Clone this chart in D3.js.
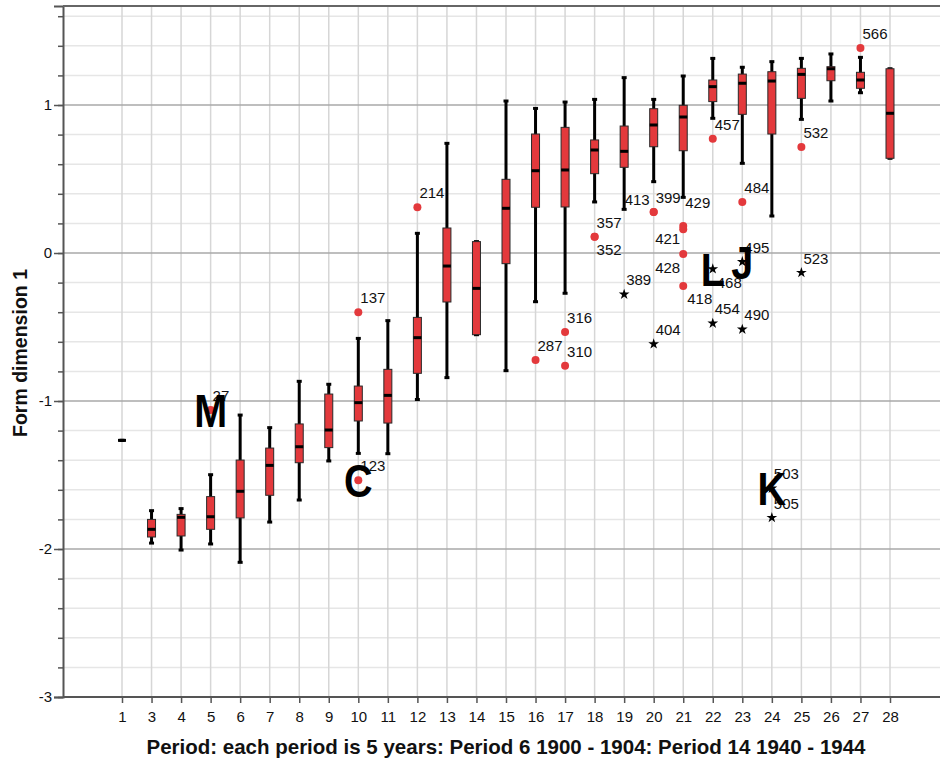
<!DOCTYPE html>
<html>
<head>
<meta charset="utf-8">
<script src="https://cdn.jsdelivr.net/npm/d3@7"></script>
<style>
  body { margin: 0; background: #fff; }
  svg { display: block; font-family: "Liberation Sans", Arial, sans-serif; }
</style>
</head>
<body>
<svg id="chart"></svg>
<script>
// box plot values per period
var periods    = [1, 3, 4, 5, 6, 7, 8, 9, 10, 11, 12, 13, 14, 15, 16, 17, 18, 19, 20, 21, 22, 23, 24, 25, 26, 27, 28];
var whiskerHi  = [-1.266, -1.741, -1.727, -1.498, -1.095, -1.18, -0.867, -0.887, -0.577, -0.457, 0.133, 0.741, 0.077, 1.027, 0.977, 1.02, 1.038, 1.185, 1.038, 1.196, 1.315, 1.255, 1.293, 1.315, 1.345, 1.322, 1.245];
var q3         = [-1.266, -1.80, -1.766, -1.646, -1.399, -1.318, -1.155, -0.953, -0.899, -0.786, -0.435, 0.169, 0.077, 0.498, 0.804, 0.849, 0.764, 0.858, 0.975, 0.998, 1.169, 1.209, 1.225, 1.248, 1.259, 1.221, 1.245];
var medians    = [-1.266, -1.867, -1.786, -1.782, -1.61, -1.435, -1.309, -1.196, -1.011, -0.962, -0.572, -0.088, -0.239, 0.302, 0.556, 0.561, 0.696, 0.687, 0.865, 0.919, 1.124, 1.147, 1.162, 1.207, 1.245, 1.169, 0.944];
var q1         = [-1.266, -1.919, -1.912, -1.867, -1.79, -1.637, -1.417, -1.315, -1.135, -1.149, -0.813, -0.331, -0.552, -0.072, 0.309, 0.311, 0.536, 0.579, 0.718, 0.691, 1.023, 0.937, 0.804, 1.045, 1.164, 1.113, 0.64];
var whiskerLo  = [-1.266, -1.96, -2.007, -1.966, -2.09, -1.818, -1.669, -1.405, -1.354, -1.356, -0.99, -0.842, -0.552, -0.795, -0.329, -0.272, 0.345, 0.295, 0.482, 0.376, 0.91, 0.606, 0.25, 0.903, 1.027, 1.083, 0.64];

// outliers (o) and extremes (*)
var outPeriod = [5, 10, 10, 12, 16, 17, 17, 18, 18, 19, 20, 20, 20, 21, 21, 21, 21, 22, 22, 22, 23, 23, 23, 24, 24, 25, 25, 27];
var outValue  = [-1.06, -0.401, -1.536, 0.309, -0.723, -0.534, -0.761, 0.11, 0.11, -0.279, 0.277, 0.277, -0.615, 0.182, 0.16, -0.007, -0.223, 0.772, -0.108, -0.475, 0.345, -0.059, -0.516, -1.59, -1.788, 0.716, -0.133, 1.385];
var outId     = [27, 137, 123, 214, 287, 316, 310, 357, 352, 389, 399, 413, 404, 429, 421, 428, 418, 457, 468, 454, 484, 495, 490, 503, 505, 532, 523, 566];
var outKind   = ['o', 'o', 'o', 'o', 'o', 'o', 'o', 'o', 'o', '*', 'o', 'o', '*', 'o', 'o', 'o', 'o', 'o', '*', '*', 'o', '*', '*', '*', '*', 'o', '*', 'o'];

// hand-drawn letters on top of the chart, tied to a case
var markLetter = ['M', 'C', 'L', 'J', 'K'];
var markCase   = [27, 123, 468, 495, 503];

var yTicks = [-3, -2, -1, 0, 1];
var xTitle = 'Period: each period is 5 years: Period 6 1900 - 1904: Period 14 1940 - 1944';
var yTitle = 'Form dimension 1';

var W = 940, H = 763;
var plotLeft = 63, plotTop = 6, plotBottom = 697, plotRight = 949;
var RED = '#e3393c';

var svg = d3.select('#chart').attr('width', W).attr('height', H);

var x = d3.scalePoint().domain(periods).range([122, 890]);
var y = d3.scaleLinear().domain([-3, 1.669]).range([plotBottom, plotTop]);

// grid
var minor = d3.range(-3, 1.7, 0.2).map(function(v) { return Math.round(v * 10) / 10; });
svg.append('g').selectAll('line').data(minor.filter(function(v) { return yTicks.indexOf(v) < 0; }))
  .enter().append('line')
  .attr('x1', plotLeft).attr('x2', plotRight).attr('y1', y).attr('y2', y)
  .attr('stroke', '#e6e6e6').attr('stroke-width', 1.5);
svg.append('g').selectAll('line').data(periods)
  .enter().append('line')
  .attr('x1', x).attr('x2', x).attr('y1', plotTop).attr('y2', plotBottom)
  .attr('stroke', '#d6d6d6').attr('stroke-width', 1.5);
svg.append('g').selectAll('line').data(yTicks)
  .enter().append('line')
  .attr('x1', plotLeft).attr('x2', plotRight).attr('y1', y).attr('y2', y)
  .attr('stroke', '#a9a9a9').attr('stroke-width', 1.5);

// axes
svg.append('g').attr('transform', 'translate(' + plotLeft + ',0)')
  .call(d3.axisLeft(y).tickValues(minor).tickSize(5).tickFormat(''))
  .select('.domain').remove();
svg.append('g').attr('transform', 'translate(' + plotLeft + ',0)')
  .call(d3.axisLeft(y).tickValues(yTicks).tickSize(9).tickPadding(2).tickFormat(function(d) { return String(d); }));
var xAxis = svg.append('g').attr('transform', 'translate(0,' + plotBottom + ')')
  .call(d3.axisBottom(x).tickSize(6).tickPadding(8).tickSizeOuter(0));
svg.selectAll('.domain').attr('stroke', '#555').attr('stroke-width', 2);
svg.selectAll('.tick line').attr('stroke', '#555').attr('stroke-width', 1.5);
svg.selectAll('.tick text').attr('fill', '#111').style('font-size', '15px')
  .style('font-family', '"Liberation Sans", Arial, sans-serif');
xAxis.select('.domain').attr('d', 'M' + plotLeft + ',0H' + plotRight);
svg.append('line').attr('x1', plotLeft).attr('x2', plotRight).attr('y1', plotTop).attr('y2', plotTop)
  .attr('stroke', '#666').attr('stroke-width', 2);

// boxes
var boxes = svg.append('g').selectAll('g').data(periods).enter().append('g')
  .attr('transform', function(d) { return 'translate(' + x(d) + ',0)'; });
boxes.append('line')
  .attr('y1', function(d, i) { return y(whiskerHi[i]); })
  .attr('y2', function(d, i) { return y(whiskerLo[i]); })
  .attr('stroke', '#000').attr('stroke-width', 3);
boxes.append('line').attr('x1', -2.5).attr('x2', 2.5)
  .attr('y1', function(d, i) { return y(whiskerHi[i]); })
  .attr('y2', function(d, i) { return y(whiskerHi[i]); })
  .attr('stroke', '#000').attr('stroke-width', 3);
boxes.append('line').attr('x1', -2.5).attr('x2', 2.5)
  .attr('y1', function(d, i) { return y(whiskerLo[i]); })
  .attr('y2', function(d, i) { return y(whiskerLo[i]); })
  .attr('stroke', '#000').attr('stroke-width', 3);
boxes.append('rect').attr('x', -4).attr('width', 8)
  .attr('y', function(d, i) { return y(q3[i]); })
  .attr('height', function(d, i) { return y(q1[i]) - y(q3[i]); })
  .attr('fill', RED).attr('stroke', '#2a2a2a').attr('stroke-width', 1);
boxes.append('line').attr('x1', -4).attr('x2', 4)
  .attr('y1', function(d, i) { return y(medians[i]); })
  .attr('y2', function(d, i) { return y(medians[i]); })
  .attr('stroke', '#000').attr('stroke-width', 3);

// outliers
var outs = outId.map(function(id, i) {
  return { id: id, px: x(outPeriod[i]), py: y(outValue[i]), kind: outKind[i] };
});
var g = svg.append('g');
g.selectAll('circle').data(outs.filter(function(d) { return d.kind === 'o'; }))
  .enter().append('circle')
  .attr('cx', function(d) { return d.px; }).attr('cy', function(d) { return d.py; })
  .attr('r', 4).attr('fill', RED);
g.selectAll('path').data(outs.filter(function(d) { return d.kind === '*'; }))
  .enter().append('path')
  .attr('d', d3.symbol().type(d3.symbolStar).size(36))
  .attr('transform', function(d) { return 'translate(' + d.px + ',' + d.py + ')'; })
  .attr('fill', '#000');

// label placement: default right/above, a few are moved to avoid overlap
var place = {
  352: ['start', 2, 18], 413: ['end', -4, -7], 429: ['start', 2, -18],
  421: ['end', -3, 15], 428: ['end', -3, 19], 418: ['start', 4, 18], 468: ['start', 4, 19]
};
g.selectAll('text').data(outs).enter().append('text')
  .attr('text-anchor', function(d) { return place[d.id] ? place[d.id][0] : 'start'; })
  .attr('x', function(d) { return d.px + (place[d.id] ? place[d.id][1] : 2); })
  .attr('y', function(d) { return d.py + (place[d.id] ? place[d.id][2] : -9); })
  .style('font-size', '15px').attr('fill', '#111')
  .text(function(d) { return d.id; });

// big letters
svg.append('g').selectAll('text').data(markLetter).enter().append('text')
  .attr('text-anchor', 'middle')
  .attr('transform', function(d, i) {
    var o = outs.find(function(p) { return p.id === markCase[i]; });
    return 'translate(' + o.px + ',' + (o.py + 17) + ') scale(0.86,1)';
  })
  .style('font-size', '46px').style('font-weight', 'bold').attr('fill', '#000')
  .text(function(d) { return d; });

// titles
svg.append('text').attr('x', 506).attr('y', 754).attr('text-anchor', 'middle')
  .style('font-size', '20.5px').style('font-weight', 'bold').attr('fill', '#111').text(xTitle);
svg.append('text').attr('transform', 'translate(27,353) rotate(-90)').attr('text-anchor', 'middle')
  .style('font-size', '19.5px').style('font-weight', 'bold').attr('fill', '#111').text(yTitle);
</script>
</body>
</html>
